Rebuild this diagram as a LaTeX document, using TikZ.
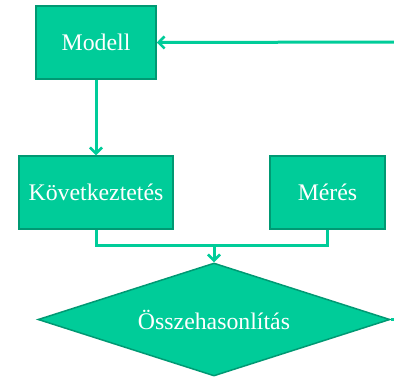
\documentclass[tikz,border=0pt]{standalone}
\usepackage{fontspec}
\setmainfont{Liberation Serif}
\usetikzlibrary{arrows.meta,shapes.geometric}
\definecolor{boxfill}{RGB}{0,204,153}
\definecolor{boxedge}{RGB}{0,153,115}
\definecolor{linec}{RGB}{0,204,153}
\begin{document}
\begin{tikzpicture}[x=1pt,y=-1pt,
  box/.style={draw=boxedge,line width=1.5pt,fill=boxfill,text=white,inner sep=0pt,font=\fontsize{23.8}{26}\selectfont},
  conn/.style={draw=linec,line width=3pt},
  arr/.style={conn,-{Straight Barb[length=6pt,width=12pt,line width=2.5pt]}}]
\useasboundingbox (0,0) rectangle (394,376);
\node[box,minimum width=120pt,minimum height=73pt] (modell) at (96,42.5) {Modell};
\node[box,minimum width=154pt,minimum height=73pt] (kov) at (96,192.5) {Következtetés};
\node[box,minimum width=115pt,minimum height=73pt] (meres) at (327.5,192.5) {Mérés};
\node[box,diamond,minimum width=352pt,minimum height=113pt,aspect=3.1,inner sep=0pt] (ossz) at (214,319.5) {Összehasonlítás};
\coordinate (rin) at (394,42);
\coordinate (rout) at (394,319.5);
\coordinate (join) at (214,245.5);
\draw[arr] (rin) -- (modell.east);
\draw[arr] (modell.south) -- (kov.north);
\draw[conn] (kov.south) |- (join) -| (meres.south);
\draw[arr] (join) -- (ossz.north);
\draw[conn] (ossz.east) -- (rout);
\end{tikzpicture}
\end{document}
